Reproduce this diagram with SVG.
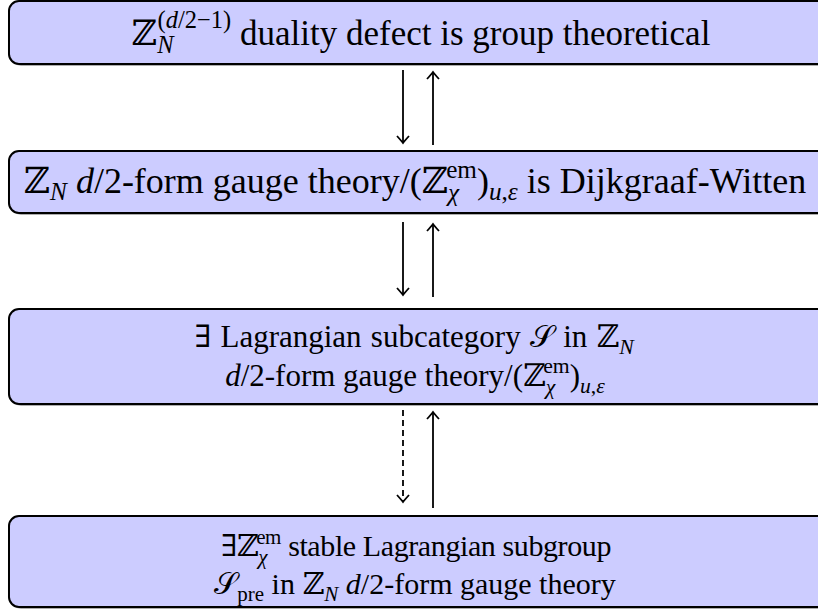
<svg xmlns="http://www.w3.org/2000/svg" width="818" height="611" viewBox="0 0 818 611">
<style>
.box{fill:#ccccff;stroke:#000;stroke-width:2}
.sh{fill:#777;stroke:none;opacity:0.6}
text{font-family:"Liberation Serif","DejaVu Serif",serif;fill:#000;text-anchor:middle}
.t1{font-size:35px}.t2{font-size:36px}.t3{font-size:31px}.t4{font-size:30px}
.i{font-style:italic}
.s{font-size:0.7em}
.ar{stroke:#000;stroke-width:1.8;fill:none}
</style>
<defs>
<marker id="ah" markerUnits="userSpaceOnUse" markerWidth="20" markerHeight="20" refX="0" refY="0" viewBox="-10 -10 20 20" orient="auto">
<path d="M-7,-6 Q-2,-1.5 0,0 Q-2,1.5 -7,6" fill="none" stroke="#000" stroke-width="1.8"/>
</marker>
</defs>
<g id="connectors">
<line class="ar" x1="403" y1="70" x2="403" y2="143" marker-end="url(#ah)"/>
<line class="ar" x1="433" y1="145" x2="433" y2="72" marker-end="url(#ah)"/>
<line class="ar" x1="403" y1="222" x2="403" y2="295" marker-end="url(#ah)"/>
<line class="ar" x1="433" y1="297" x2="433" y2="224" marker-end="url(#ah)"/>
<line class="ar" x1="403" y1="410" x2="403" y2="502" stroke-dasharray="6,4" marker-end="url(#ah)"/>
<line class="ar" x1="433" y1="508" x2="433" y2="412" marker-end="url(#ah)"/>
</g>
<g id="n1">
<rect class="sh" x="11" y="3" width="818" height="63" rx="10"/>
<rect class="box" x="9" y="1" width="818" height="63" rx="10"/>
<text class="t1" x="421" y="45">ℤ<tspan class="s i" dy="8">N</tspan><tspan class="s" dx="-16" dy="-25">(<tspan class="i">d</tspan>/2−1)</tspan><tspan dy="17"> duality defect is group theoretical</tspan></text>
</g>
<g id="n2">
<rect class="sh" x="11" y="153" width="818" height="62" rx="10"/>
<rect class="box" x="9" y="151" width="818" height="62" rx="10"/>
<text class="t2" x="415" y="193">ℤ<tspan class="s i" dy="7">N</tspan><tspan dy="-7"> </tspan><tspan class="i">d</tspan>/2-form gauge theory/(ℤ<tspan class="s i" dy="8">χ</tspan><tspan class="s" dx="-13" dy="-23">em</tspan><tspan dy="15">)</tspan><tspan class="s i" dy="7">u</tspan><tspan class="s">,</tspan><tspan class="s i">ε</tspan><tspan dy="-7"> is Dijkgraaf-Witten</tspan></text>
</g>
<g id="n3">
<rect class="sh" x="11" y="311" width="818" height="95" rx="10"/>
<rect class="box" x="9" y="309" width="818" height="95" rx="10"/>
<text class="t3" x="414" y="347" word-spacing="1.5">∃ Lagrangian subcategory 𝒮 in ℤ<tspan class="s i" dy="7">N</tspan></text>
<text class="t3" x="415" y="386"><tspan class="i">d</tspan>/2-form gauge theory/(ℤ<tspan class="s i" dy="8">χ</tspan><tspan class="s" dx="-12" dy="-21">em</tspan><tspan dy="13">)</tspan><tspan class="s i" dy="7">u</tspan><tspan class="s">,</tspan><tspan class="s i">ε</tspan></text>
</g>
<g id="n4">
<rect class="sh" x="11" y="518" width="818" height="91" rx="10"/>
<rect class="box" x="9" y="516" width="818" height="91" rx="10"/>
<text class="t4" x="416" y="556" letter-spacing="-0.4">∃ℤ<tspan class="s i" dy="8">χ</tspan><tspan class="s" dx="-11" dy="-20">em</tspan><tspan dy="12"> stable Lagrangian subgroup</tspan></text>
<text class="t4" x="415" y="594">𝒮<tspan class="s" dy="7">pre</tspan><tspan dy="-7"> in ℤ</tspan><tspan class="s i" dy="7">N</tspan><tspan dy="-7"> </tspan><tspan class="i">d</tspan>/2-form gauge theory</text>
</g>
</svg>
